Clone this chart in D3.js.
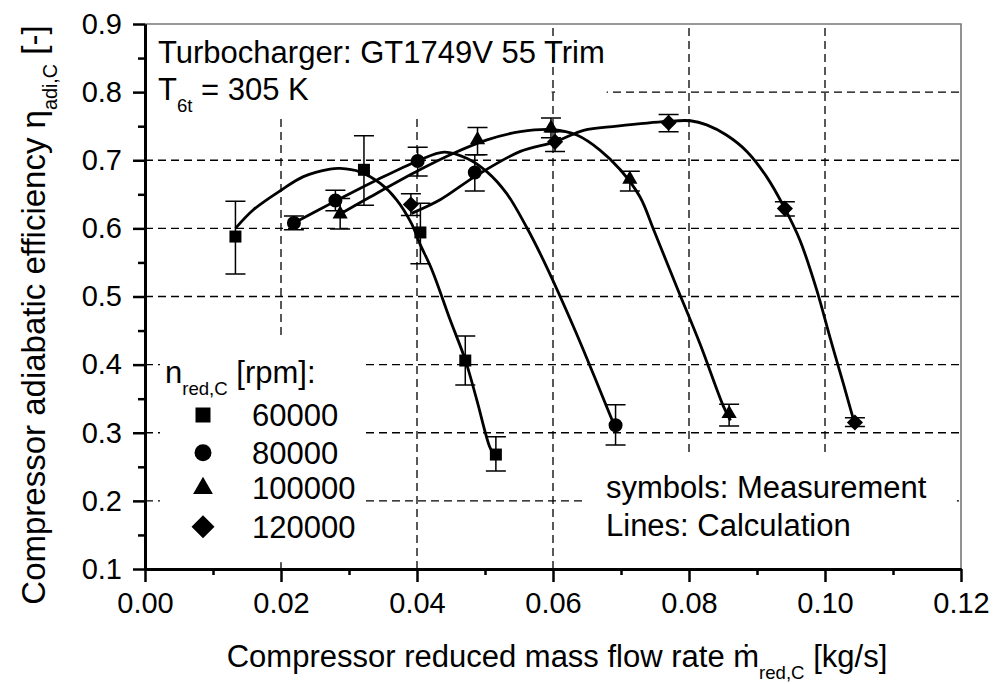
<!DOCTYPE html>
<html>
<head>
<meta charset="utf-8">
<script src="https://cdn.jsdelivr.net/npm/d3@7"></script>
<style>
  body { margin: 0; background: #fff; }
  svg { display: block; font-family: 'Liberation Sans', Arial, sans-serif; }
</style>
</head>
<body>
<div id="app"></div>
<script>
'use strict'

// Rotational speeds (legend order)
const speeds = ['60000', '80000', '100000', '120000'];

// Measurements: [mass flow kg/s, efficiency, error low, error high]
const meas60 = [[0.0133, 0.588, 0.533, 0.640], [0.0322, 0.686, 0.634, 0.736],
                [0.0405, 0.594, 0.548, 0.637], [0.0471, 0.406, 0.370, 0.442],
                [0.0516, 0.268, 0.244, 0.294]];
const meas80 = [[0.0219, 0.608, 0.598, 0.618], [0.0280, 0.641, 0.626, 0.656],
                [0.0401, 0.699, 0.677, 0.719], [0.0485, 0.682, 0.655, 0.708],
                [0.0692, 0.311, 0.282, 0.341]];
const meas100 = [[0.0287, 0.621, 0.599, 0.644], [0.0489, 0.730, 0.708, 0.748],
                 [0.0597, 0.747, 0.733, 0.762], [0.0713, 0.672, 0.655, 0.684],
                 [0.0859, 0.328, 0.310, 0.342]];
const meas120 = [[0.0391, 0.635, 0.619, 0.651], [0.0603, 0.727, 0.713, 0.742],
                 [0.0770, 0.755, 0.742, 0.767], [0.0941, 0.629, 0.618, 0.639],
                 [0.1044, 0.315, 0.309, 0.322]];

// Calculation lines: [mass flow kg/s, efficiency]
const calc60 = [[0.0133, 0.600], [0.0159, 0.627], [0.0200, 0.656], [0.0233, 0.676],
                [0.0272, 0.687], [0.0287, 0.688], [0.0316, 0.683], [0.0346, 0.666],
                [0.0370, 0.642], [0.0392, 0.607], [0.0404, 0.578], [0.0422, 0.539],
                [0.0449, 0.465], [0.0471, 0.407], [0.0488, 0.348], [0.0507, 0.279],
                [0.0516, 0.262]];
const calc80 = [[0.0219, 0.608], [0.0280, 0.640], [0.0341, 0.671], [0.0401, 0.699],
                [0.0440, 0.712], [0.0473, 0.703], [0.0503, 0.683], [0.0532, 0.651],
                [0.0561, 0.602], [0.0586, 0.553], [0.0630, 0.456], [0.0659, 0.387],
                [0.0689, 0.314], [0.0692, 0.308]];
const calc100 = [[0.0287, 0.621], [0.0331, 0.646], [0.0404, 0.686], [0.0453, 0.710],
                 [0.0503, 0.730], [0.0552, 0.742], [0.0600, 0.745], [0.0635, 0.737],
                 [0.0669, 0.715], [0.0699, 0.686], [0.0728, 0.646], [0.0748, 0.598],
                 [0.0782, 0.514], [0.0816, 0.431], [0.0851, 0.338], [0.0861, 0.318]];
const calc120 = [[0.0392, 0.622], [0.0434, 0.642], [0.0485, 0.676], [0.0552, 0.713],
                 [0.0603, 0.727], [0.0645, 0.744], [0.0694, 0.750], [0.0767, 0.757],
                 [0.0802, 0.758], [0.0826, 0.752], [0.0855, 0.737], [0.0885, 0.713],
                 [0.0914, 0.676], [0.0941, 0.629], [0.0963, 0.583], [0.0988, 0.509],
                 [0.1007, 0.441], [0.1027, 0.372], [0.1042, 0.319], [0.1044, 0.312]];

// Ticks
const xTicks = [0, 0.02, 0.04, 0.06, 0.08, 0.10, 0.12];
const xMinor = [0.01, 0.03, 0.05, 0.07, 0.09, 0.11];
const yTicks = [0.1, 0.2, 0.3, 0.4, 0.5, 0.6, 0.7, 0.8, 0.9];
const yMinor = [0.15, 0.25, 0.35, 0.45, 0.55, 0.65, 0.75, 0.85];


let width = 996;
let height = 684;
let x = d3.scaleLinear().domain([0, 0.12]).range([145, 961]);
let y = d3.scaleLinear().domain([0.1, 0.9]).range([569, 24]);

let svg = (
  d3.select('#app')
    .append('svg')
    .attr('width', width)
    .attr('height', height));

// Dashed grid
(svg.append('g')
  .selectAll('line')
    .data(xTicks.slice(1, -1))
  .enter()
    .append('line')
      .attr('x1', (d) => x(d))
      .attr('x2', (d) => x(d))
      .attr('y1', y(0.1))
      .attr('y2', y(0.9))
      .attr('stroke', '#000')
      .attr('stroke-width', 1.3)
      .attr('stroke-dasharray', '8,5'));
(svg.append('g')
  .selectAll('line')
    .data(yTicks.slice(1, -1))
  .enter()
    .append('line')
      .attr('x1', x(0))
      .attr('x2', x(0.12))
      .attr('y1', (d) => y(d))
      .attr('y2', (d) => y(d))
      .attr('stroke', '#000')
      .attr('stroke-width', 1.3)
      .attr('stroke-dasharray', '8,5'));

// White boxes behind the text blocks hide parts of the grid
let boxes = [[0, 0.0598, 0.7665, 0.9], [0.0603, 0.0679, 0.785, 0.815],
             [0.0022, 0.0321, 0.110, 0.439], [0.0643, 0.1194, 0.1, 0.270]];
(svg.append('g')
  .selectAll('rect')
    .data(boxes)
  .enter()
    .append('rect')
      .attr('x', (d) => x(d[0]))
      .attr('y', (d) => y(d[3]))
      .attr('width', (d) => x(d[1]) - x(d[0]))
      .attr('height', (d) => y(d[2]) - y(d[3]))
      .attr('fill', '#fff'));

// Thin grey frame top and right
svg.append('path')
  .attr('d', `M${x(0)},${y(0.9)}H${x(0.12)}V${y(0.1)}`)
  .attr('fill', 'none')
  .attr('stroke', '#777')
  .attr('stroke-width', 1.6);

// Axes
let fontFamily = "'Liberation Sans', Arial, sans-serif";
let styleAxis = (g) => {
  g.attr('font-size', 29).attr('font-family', fontFamily);
  g.select('.domain').attr('stroke-width', 3);
  g.selectAll('.tick line').attr('stroke-width', 2.5);
  g.selectAll('.tick text').attr('fill', '#000');
};

(svg.append('g')
  .attr('transform', `translate(0,${y(0.1)})`)
  .call(d3.axisBottom(x).tickValues(xMinor).tickSize(6).tickSizeOuter(0).tickFormat(''))
  .call(styleAxis));
(svg.append('g')
  .attr('transform', `translate(0,${y(0.1)})`)
  .call(d3.axisBottom(x).tickValues(xTicks).tickSize(13).tickSizeOuter(0)
        .tickPadding(10).tickFormat(d3.format('.2f')))
  .call(styleAxis));
(svg.append('g')
  .attr('transform', `translate(${x(0)},0)`)
  .call(d3.axisLeft(y).tickValues(yMinor).tickSize(7).tickSizeOuter(0).tickFormat(''))
  .call(styleAxis));
(svg.append('g')
  .attr('transform', `translate(${x(0)},0)`)
  .call(d3.axisLeft(y).tickValues(yTicks).tickSize(12).tickSizeOuter(0)
        .tickPadding(11).tickFormat(d3.format('.1f')))
  .call(styleAxis));

// Calculation lines
let line = d3.line()
  .x((d) => x(d[0]))
  .y((d) => y(d[1]))
  .curve(d3.curveCatmullRom.alpha(0.5));
(svg.append('g')
  .selectAll('path')
    .data([calc60, calc80, calc100, calc120])
  .enter()
    .append('path')
      .attr('d', line)
      .attr('fill', 'none')
      .attr('stroke', '#000')
      .attr('stroke-width', 2.8));

// Measurements with error bars
let series = [
  {data: meas60, type: d3.symbolSquare, size: 144, rot: 0, legendSize: 225},
  {data: meas80, type: d3.symbolCircle, size: 154, rot: 0, legendSize: 227},
  {data: meas100, type: d3.symbolTriangle, size: 100, rot: 0, legendSize: 170},
  {data: meas120, type: d3.symbolSquare, size: 130, rot: 45, legendSize: 265},
];
let cap = 10;
series.forEach((s) => {
  let g = svg.append('g');
  (g.selectAll('path.err')
    .data(s.data)
    .enter()
      .append('path')
        .attr('class', 'err')
        .attr('d', (d) => `M${x(d[0]) - cap},${y(d[3])}H${x(d[0]) + cap}` +
                          `M${x(d[0])},${y(d[3])}V${y(d[2])}` +
                          `M${x(d[0]) - cap},${y(d[2])}H${x(d[0]) + cap}`)
        .attr('fill', 'none')
        .attr('stroke', '#000')
        .attr('stroke-width', 1.5));
  (g.selectAll('path.mark')
    .data(s.data)
    .enter()
      .append('path')
        .attr('class', 'mark')
        .attr('d', d3.symbol().type(s.type).size(s.size))
        .attr('transform', (d) => `translate(${x(d[0])},${y(d[1])}) rotate(${s.rot})`)
        .attr('fill', '#000'));
});

// Text helper, arrays inside parts are subscripts
let addText = (tx, ty, parts, anchor = 'start', transform = null, size = 31) => {
  let t = svg.append('text')
    .attr('x', tx)
    .attr('y', ty)
    .attr('font-size', size)
    .attr('text-anchor', anchor)
    .attr('fill', '#000');
  if (transform) t.attr('transform', transform);
  let shift = 0;
  parts.forEach((p) => {
    let sub = Array.isArray(p);
    let dy = sub ? 12 - shift : -shift;
    shift = sub ? 12 : 0;
    (t.append('tspan')
      .attr('dy', dy)
      .attr('font-size', sub ? size * 0.6 : size)
      .text(sub ? p[0] : p));
  });
  return t;
};

addText(158, 63, ['Turbocharger: GT1749V 55 Trim']);
addText(158, 100, ['T', ['6t'], ' = 305 K']);
addText(165, 383, ['n', ['red,C'], ' [rpm]:']);
addText(606, 498, ['symbols: Measurement']);
addText(606, 536, ['Lines: Calculation']);
addText(557, 667, ['Compressor reduced mass flow rate \u1e41', ['red,C'], ' [kg/s]'], 'middle');
addText(0, 0, ['Compressor adiabatic efficiency \u03b7', ['adi,C'], ' [-]'], 'middle',
        'translate(45,315) rotate(-90)', 33);

// Legend
let legendY = [415, 452.7, 488.3, 526.7];
let lg = svg.append('g');
(lg.selectAll('path')
  .data(series)
  .enter()
    .append('path')
      .attr('d', (s) => d3.symbol().type(s.type).size(s.legendSize)())
      .attr('transform', (s, i) => `translate(203,${legendY[i]}) rotate(${s.rot})`)
      .attr('fill', '#000'));
(lg.selectAll('text')
  .data(speeds)
  .enter()
    .append('text')
      .attr('x', 252)
      .attr('y', (d, i) => legendY[i] + 11)
      .attr('font-size', 31)
      .attr('fill', '#000')
      .text((d) => d));
</script>
</body>
</html>
